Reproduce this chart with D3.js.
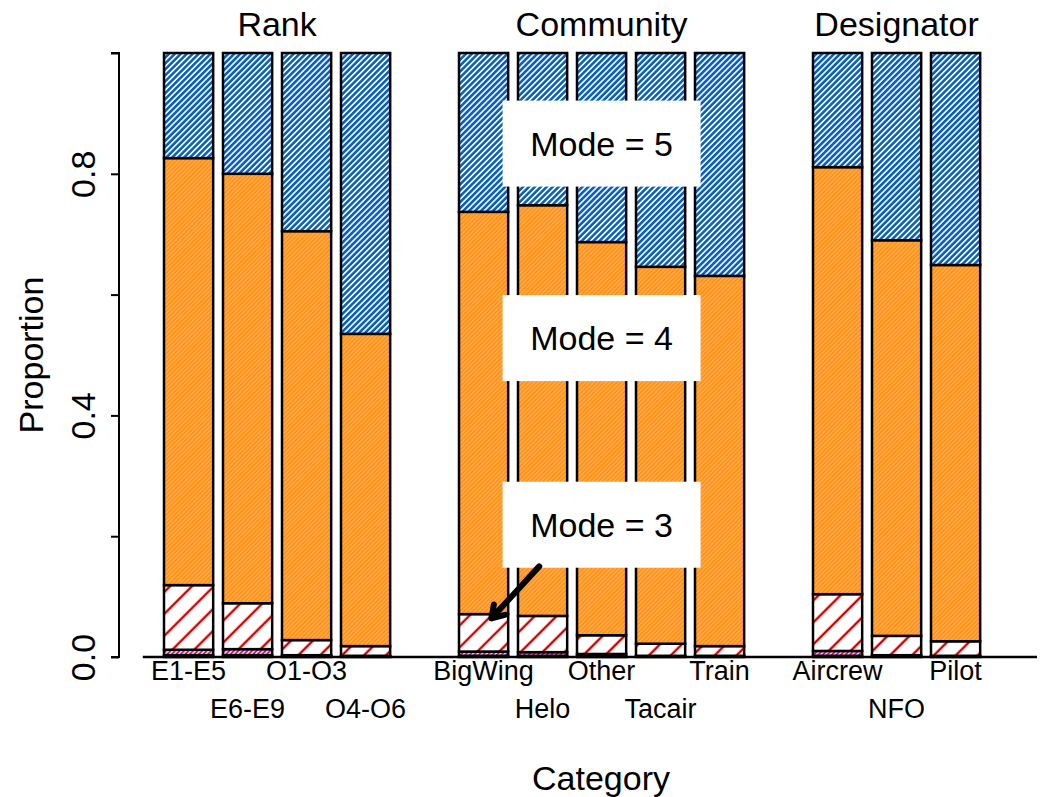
<!DOCTYPE html>
<html>
<head>
<meta charset="utf-8">
<script src="https://cdn.jsdelivr.net/npm/d3@7"></script>
<style>
  html, body { margin: 0; padding: 0; background: #ffffff; }
  svg { display: block; font-family: "Liberation Sans", Arial, Helvetica, sans-serif; }
</style>
</head>
<body>
<svg id="chart" width="1041" height="797"></svg>
<script>
// Response categories, grouped by facet
const groups = ["Rank", "Community", "Designator"];
const categories = ["E1-E5", "E6-E9", "O1-O3", "O4-O6",
                    "BigWing", "Helo", "Other", "Tacair", "Train",
                    "Aircrew", "NFO", "Pilot"];
const categoryGroup = [0, 0, 0, 0, 1, 1, 1, 1, 1, 2, 2, 2];

// Proportion of responses at each mode (1 = lowest, 5 = highest)
const mode1 = [0.003, 0.003, 0.001, 0.001, 0.002, 0.002, 0.001, 0.001, 0.001, 0.002, 0.001, 0.001];
const mode2 = [0.009, 0.010, 0.002, 0.001, 0.007, 0.006, 0.004, 0.001, 0.001, 0.008, 0.002, 0.001];
const mode3 = [0.107, 0.076, 0.025, 0.016, 0.062, 0.060, 0.031, 0.020, 0.016, 0.094, 0.032, 0.024];
const mode4 = [0.707, 0.711, 0.677, 0.517, 0.666, 0.680, 0.651, 0.624, 0.613, 0.707, 0.655, 0.623];
const mode5 = [0.174, 0.200, 0.295, 0.465, 0.263, 0.252, 0.313, 0.354, 0.369, 0.189, 0.310, 0.351];

const yTicks = [0, 0.2, 0.4, 0.6, 0.8, 1.0];
const yTickLabels = ["0.0", "", "0.4", "", "0.8", ""];

// Boxed mode annotations (y in proportion units)
const annotLabels = ["Mode = 5", "Mode = 4", "Mode = 3"];
const annotY = [0.85, 0.528, 0.219];
// Arrow from the "Mode = 3" box down to the BigWing mode-3 segment (slot units, proportion)
const arrowFrom = [6.36, 0.150];
const arrowTo = [5.55, 0.064];

const modes = [mode1, mode2, mode3, mode4, mode5];

const svg = d3.select("#chart");
const font = "\"Liberation Sans\", Arial, Helvetica, sans-serif";

// Hatch patterns for each mode
const hatch = [
  { id: "h1", color: "#6a0a5a", period: 2.2, lw: 1.6 },
  { id: "h2", color: "#c8148a", period: 3.2, lw: 2.0 },
  { id: "h3", color: "#d10000", period: 15.5, lw: 2.4 },
  { id: "h4", color: "#ff8a05", period: 3.0, lw: 2.5 },
  { id: "h5", color: "#0860c4", period: 4.2, lw: 2.6 }
];
const defs = svg.append("defs");
hatch.forEach(h => {
  const p = defs.append("pattern")
    .attr("id", h.id)
    .attr("patternUnits", "userSpaceOnUse")
    .attr("width", h.period)
    .attr("height", 10)
    .attr("patternTransform", "rotate(45)");
  p.append("rect").attr("width", h.period).attr("height", 10).attr("fill", "#ffffff");
  p.append("line")
    .attr("x1", h.period / 2).attr("x2", h.period / 2)
    .attr("y1", 0).attr("y2", 10)
    .attr("stroke", h.color).attr("stroke-width", h.lw);
});

// Slot positions: one empty slot between facet groups
const slot = categories.map((c, i) => i + categoryGroup[i]);
const nSlots = d3.max(slot) + 1;
// Position of each category within its own group (for staggered labels)
const posInGroup = categories.map((c, i) => categoryGroup.slice(0, i).filter(g => g === categoryGroup[i]).length);

const x = d3.scaleLinear().domain([0, nSlots]).range([164, 164 + 59 * nSlots]);
const barW = (x(1) - x(0)) / 1.2;
const y = d3.scaleLinear().domain([0, 1]).range([657, 53]);

// Stacked segments
const stack = [];
categories.forEach((c, i) => {
  let base = 0;
  modes.forEach((m, k) => {
    stack.push({ cat: c, i: i, k: k, y0: base, y1: base + m[i] });
    base += m[i];
  });
});

svg.append("g").selectAll("rect")
  .data(stack)
  .join("rect")
  .attr("x", d => x(slot[d.i]))
  .attr("width", barW)
  .attr("y", d => y(d.y1))
  .attr("height", d => y(d.y0) - y(d.y1))
  .attr("fill", d => `url(#${hatch[d.k].id})`)
  .attr("stroke", "#000")
  .attr("stroke-width", 2.5);

// Baseline
svg.append("line")
  .attr("x1", x(-0.36)).attr("x2", x(nSlots) + 47)
  .attr("y1", y(0)).attr("y2", y(0))
  .attr("stroke", "#000").attr("stroke-width", 2.5);

// Y axis
const yAxis = d3.axisLeft(y)
  .tickValues(yTicks)
  .tickSize(8)
  .tickFormat((d, i) => yTickLabels[i]);
const ga = svg.append("g")
  .attr("transform", "translate(119,0)")
  .call(yAxis);
ga.select(".domain").attr("stroke", "#000").attr("stroke-width", 2).attr("d", `M-8,${y(1)}H0V${y(0)}H-8`);
ga.selectAll(".tick line").attr("stroke", "#000").attr("stroke-width", 2);
ga.selectAll(".tick text")
  .attr("x", 0).attr("y", 0).attr("dy", 0)
  .attr("transform", "translate(-24,0) rotate(-90)")
  .attr("text-anchor", "middle")
  .attr("font-family", font)
  .attr("font-size", 34)
  .attr("fill", "#000");

// Category labels, alternating rows within each group
svg.append("g").selectAll("text")
  .data(categories)
  .join("text")
  .attr("x", (d, i) => x(slot[i]) + barW / 2)
  .attr("y", (d, i) => posInGroup[i] % 2 === 0 ? 680 : 718)
  .attr("text-anchor", "middle")
  .attr("font-family", font)
  .attr("font-size", 27)
  .text(d => d);

// Group titles
svg.append("g").selectAll("text")
  .data(groups)
  .join("text")
  .attr("x", (g, gi) => {
    const idx = categories.map((c, i) => i).filter(i => categoryGroup[i] === gi);
    return (x(slot[idx[0]]) + x(slot[idx[idx.length - 1]]) + barW) / 2;
  })
  .attr("y", 36)
  .attr("text-anchor", "middle")
  .attr("font-family", font)
  .attr("font-size", 34)
  .text(d => d);

// Axis titles
svg.append("text")
  .attr("x", 601).attr("y", 790)
  .attr("text-anchor", "middle")
  .attr("font-family", font).attr("font-size", 34)
  .text("Category");
svg.append("text")
  .attr("transform", `translate(43,${(y(0) + y(1)) / 2}) rotate(-90)`)
  .attr("text-anchor", "middle")
  .attr("font-family", font).attr("font-size", 34)
  .text("Proportion");

// Mode annotations in white boxes centred over the Community group
const commIdx = categories.map((c, i) => i).filter(i => categoryGroup[i] === 1);
const annotX = (x(slot[commIdx[0]]) + x(slot[commIdx[commIdx.length - 1]]) + barW) / 2;
const ann = svg.append("g").selectAll("g")
  .data(annotLabels)
  .join("g")
  .attr("transform", (d, i) => `translate(${annotX},${y(annotY[i])})`);
ann.append("rect")
  .attr("x", -99).attr("y", -43).attr("width", 198).attr("height", 86)
  .attr("fill", "#fff");
ann.append("text")
  .attr("text-anchor", "middle")
  .attr("dy", "0.36em")
  .attr("font-family", font).attr("font-size", 34)
  .text(d => d);

// Arrow
const ax0 = x(arrowFrom[0]), ay0 = y(arrowFrom[1]);
const ax1 = x(arrowTo[0]), ay1 = y(arrowTo[1]);
const ang = Math.atan2(ay1 - ay0, ax1 - ax0);
const hl = 14, ha = Math.PI / 5.5;
svg.append("path")
  .attr("d", `M${ax0},${ay0}L${ax1},${ay1}` +
    `M${ax1 - hl * Math.cos(ang - ha)},${ay1 - hl * Math.sin(ang - ha)}L${ax1},${ay1}` +
    `L${ax1 - hl * Math.cos(ang + ha)},${ay1 - hl * Math.sin(ang + ha)}`)
  .attr("fill", "none")
  .attr("stroke", "#000")
  .attr("stroke-width", 6)
  .attr("stroke-linecap", "round")
  .attr("stroke-linejoin", "round");
</script>
</body>
</html>
